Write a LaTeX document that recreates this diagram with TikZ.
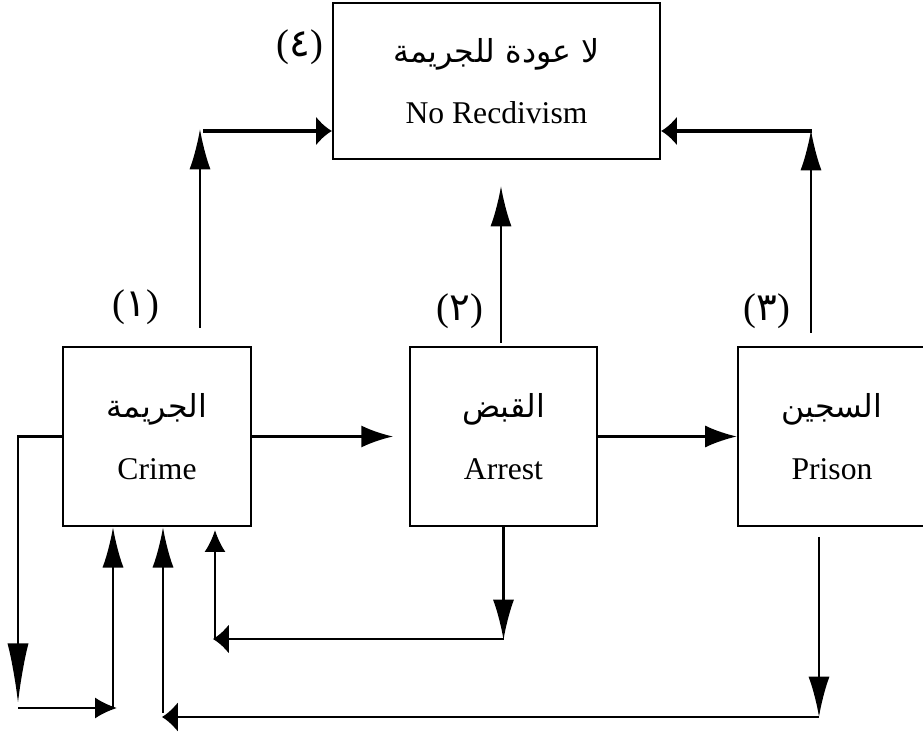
\documentclass[tikz,border=0pt]{standalone}
\usepackage{fontspec}
\setmainfont{Liberation Serif}
\newfontfamily\arabicfont[Script=Arabic]{DejaVu Sans}
\TeXXeTstate=1
\usetikzlibrary{arrows.meta}

\begin{document}
\begin{tikzpicture}[
    box/.style={draw, line width=1.3pt, align=center, inner sep=0pt,
        font=\fontsize{18}{21}\selectfont},
    link/.style={line width=1.3pt},
    heavy/.style={line width=2.2pt},
    headfwd/.style={-{Latex[length=18pt,width=12.5pt]}},
    headlong/.style={-{Latex[length=23pt,width=12pt]}},
    headxlong/.style={-{Latex[length=34pt,width=12pt]}},
    headshort/.style={-{Latex[length=12.5pt,width=12pt]}},
    headwide/.style={-{Latex[length=9pt,width=17pt]}},
    num/.style={font=\fontsize{22}{24}\selectfont}
]
\useasboundingbox (0,0) rectangle (18.46,14.74);

% the four boxes
\node[box, minimum width=6.54cm, minimum height=3.12cm] (norecid) at (9.93,13.12)
    {{\arabicfont\beginR لا عودة للجريمة\endR}\\[14pt] No Recdivism};
\node[box, minimum width=3.76cm, minimum height=3.58cm] (crime) at (3.14,6.01)
    {{\arabicfont\beginR الجريمة\endR}\\[14pt] Crime};
\node[box, minimum width=3.74cm, minimum height=3.58cm] (arrest) at (10.07,6.01)
    {{\arabicfont\beginR القبض\endR}\\[14pt] Arrest};
\node[box, minimum width=3.76cm, minimum height=3.58cm] (prison) at (16.64,6.01)
    {{\arabicfont\beginR السجين\endR}\\[14pt] Prison};

% stage numbers
\node[num] (n1) at (2.72,8.6) {({\arabicfont ١})};
\node[num] (n2) at (9.2,8.52) {({\arabicfont ٢})};
\node[num] (n3) at (15.34,8.52) {({\arabicfont ٣})};
\node[num] (n4) at (6.0,13.8) {({\arabicfont ٤})};

% free ends
\coordinate (fa) at (7.86,6.01);
\coordinate (ua) at (4.0,8.18);   \coordinate (ub) at (4.0,12.16);
\coordinate (ha) at (4.06,12.12);
\coordinate (uc) at (10.02,7.88); \coordinate (ud) at (10.02,11.02);
\coordinate (ue) at (16.22,8.08); \coordinate (uf) at (16.22,12.14);
\coordinate (hb) at (16.24,12.12);
\coordinate (la) at (0.36,0.68);
\coordinate (lb) at (0.36,0.58);  \coordinate (lc) at (2.34,0.58);
\coordinate (ld) at (2.26,0.58);
\coordinate (ra) at (10.07,1.94);
\coordinate (rb) at (10.07,1.96); \coordinate (rc) at (4.26,1.96);
\coordinate (rd) at (4.3,1.94);   \coordinate (re) at (4.3,4.14);
\coordinate (pa) at (16.38,4.0);  \coordinate (pb) at (16.38,0.4);
\coordinate (pc) at (3.24,0.4);
\coordinate (pd) at (3.26,0.48);

% main line
\draw[link,headfwd] (crime.east) -- (fa);
\draw[link,headfwd] (arrest.east) -- (prison.west);

% up to no recidivism
\draw[link,headlong] (ua) -- (ub);
\draw[heavy,headwide] (ha) -- (ha -| norecid.west);
\draw[link,headlong] (uc) -- (ud);
\draw[link,headlong] (ue) -- (uf);
\draw[heavy,headwide] (hb) -- (hb -| norecid.east);

% back to crime
\draw[link,headxlong] (crime.west) -| (la);
\draw[link,headshort] (lb) -- (lc);
\draw[link,headlong] (ld) -- (ld |- crime.south);

\draw[link,headlong] (arrest.south) -- (ra);
\draw[link,line width=1.6pt,headwide] (rb) -- (rc);
\draw[link,headshort] (rd) -- (re);

\draw[link,headlong] (pa) -- (pb);
\draw[link,headwide] (pb) -- (pc);
\draw[link,headlong] (pd) -- (pd |- crime.south);

\end{tikzpicture}
\end{document}
